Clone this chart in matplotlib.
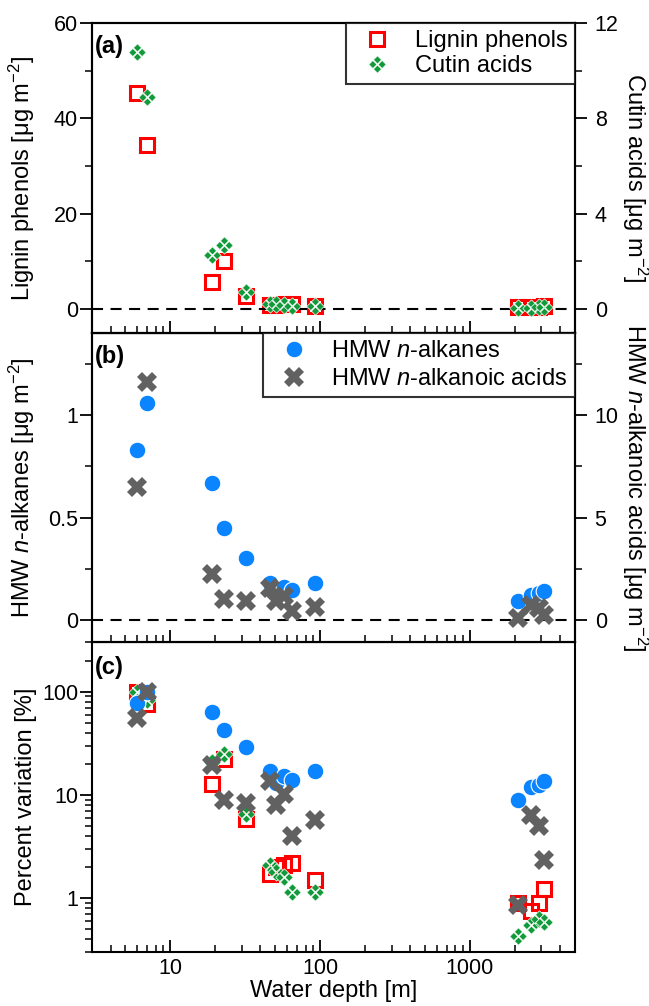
import numpy as np
import matplotlib
matplotlib.use("Agg")
import matplotlib.pyplot as plt
from matplotlib.path import Path
from matplotlib.ticker import (FixedLocator, MultipleLocator, LogLocator,
                               NullFormatter, FuncFormatter)

# ---- data: surface concentrations by station water depth ----
depth = [6.0, 7.0, 19, 23, 32, 46, 51, 57, 65, 92, 2100, 2580, 2900, 3150]

# ug m-2
lignin = [45.3, 34.4, 5.75, 10.05, 2.63, 0.77, 0.91, 0.95, 1.00, 0.68,
          0.41, 0.34, 0.41, 0.56]
cutin = [10.8, 8.9, 2.27, 2.70, 0.70, 0.227, 0.194, 0.173, 0.124, 0.124,
         0.046, 0.059, 0.067, 0.063]
alkanes = [0.83, 1.06, 0.668, 0.45, 0.305, 0.181, 0.137, 0.162, 0.147, 0.181,
           0.094, 0.125, 0.131, 0.143]
alkanoic = [6.5, 11.6, 2.25, 1.03, 0.96, 1.59, 0.93, 1.18, 0.46, 0.66,
            0.10, 0.74, 0.58, 0.27]

x_ticks = [10, 100, 1000]
x_tick_labels = ["10", "100", "1000"]


def pct_of_max(v):
    v = np.asarray(v, dtype=float)
    return v / v.max() * 100.0


def four_diamonds(r=0.44, d=0.5):
    verts, codes = [], []
    for cx, cy in [(0, d), (d, 0), (0, -d), (-d, 0)]:
        verts += [(cx, cy + r), (cx + r, cy), (cx, cy - r), (cx - r, cy), (cx, cy + r)]
        codes += [Path.MOVETO, Path.LINETO, Path.LINETO, Path.LINETO, Path.CLOSEPOLY]
    return Path(verts, codes)


plt.rcParams["font.family"] = ["Liberation Sans", "DejaVu Sans"]
plt.rcParams["mathtext.fontset"] = "custom"
plt.rcParams["mathtext.rm"] = "Liberation Sans"
plt.rcParams["mathtext.it"] = "Liberation Sans:italic"
plt.rcParams["mathtext.bf"] = "Liberation Sans:bold"

RED = "#ff0000"
GREEN = "#119a3a"
BLUE = "#0a84ff"
GRAY = "#616161"
CUTIN_MARKER = four_diamonds()

TICK_FS = 15.5
LABEL_FS = 17
LEG_FS = 17

sq_kw = dict(marker="s", ms=9.5, mfc="none", mec=RED, mew=2.2, ls="none")
cu_kw = dict(marker=CUTIN_MARKER, ms=12.5, mfc=GREEN, mec="white", mew=0.5, ls="none")
al_kw = dict(marker="o", ms=12, mfc=BLUE, mec="white", mew=0.8, ls="none")
ac_kw = dict(marker="X", ms=14, mfc=GRAY, mec="none", mew=0, ls="none")

fig = plt.figure(figsize=(6.49, 10.06), dpi=100)
L, W = 92 / 649, (574.5 - 92) / 649
H = 309.6 / 1006
B_c = 1 - 952 / 1006
ax_c = fig.add_axes([L, B_c, W, H])
ax_b = fig.add_axes([L, B_c + H, W, H], sharex=ax_c)
ax_a = fig.add_axes([L, B_c + 2 * H, W, H], sharex=ax_c)
ax_a2 = ax_a.twinx()
ax_b2 = ax_b.twinx()

for ax in (ax_a, ax_b, ax_c, ax_a2, ax_b2):
    for s in ax.spines.values():
        s.set_linewidth(1.5)

# ---- (a) lignin phenols / cutin acids ----
ax_a.axhline(0, color="black", lw=1.5, dashes=(5.3, 3.6), zorder=2.5)
h_lig, = ax_a.plot(depth, lignin, label="Lignin phenols", **sq_kw)
h_cut, = ax_a2.plot(depth, cutin, label="Cutin acids", **cu_kw)
ax_a.set_ylim(-5, 60)
ax_a2.set_ylim(-1, 12)
ax_a.yaxis.set_major_locator(MultipleLocator(20))
ax_a.yaxis.set_minor_locator(MultipleLocator(10))
ax_a2.yaxis.set_major_locator(MultipleLocator(4))
ax_a2.yaxis.set_minor_locator(MultipleLocator(2))
ax_a.set_ylabel("Lignin phenols [μg m$^{-2}$]", fontsize=LABEL_FS)
ax_a2.set_ylabel("Cutin acids [μg m$^{-2}$]", fontsize=LABEL_FS, rotation=270,
                 va="bottom")
leg_a = ax_a2.legend(handles=[h_lig, h_cut], loc="upper right", fontsize=LEG_FS,
                     frameon=True, fancybox=False, edgecolor="black",
                     borderaxespad=0, borderpad=0.3, labelspacing=0.12,
                     handletextpad=0.6, handlelength=2.0)
leg_a.get_frame().set_linewidth(1.5)
ax_a.text(0.006, 0.924, "(a)", transform=ax_a.transAxes, fontsize=17,
          fontweight="bold", va="center", ha="left")

# ---- (b) HMW n-alkanes / n-alkanoic acids ----
ax_b.axhline(0, color="black", lw=1.5, dashes=(5.3, 3.6), zorder=2.5)
h_alk, = ax_b.plot(depth, alkanes, label="HMW $\\mathit{n}$-alkanes", **al_kw)
h_aco, = ax_b2.plot(depth, alkanoic, label="HMW $\\mathit{n}$-alkanoic acids", **ac_kw)
ax_b.set_ylim(-0.108, 1.4)
ax_b2.set_ylim(-1.08, 14)
ax_b.yaxis.set_major_locator(MultipleLocator(0.5))
ax_b.yaxis.set_minor_locator(MultipleLocator(0.25))
ax_b.yaxis.set_major_formatter(FuncFormatter(lambda v, p: f"{v:g}"))
ax_b2.yaxis.set_major_locator(MultipleLocator(5))
ax_b2.yaxis.set_minor_locator(MultipleLocator(2.5))
ax_b.set_ylabel("HMW $\\mathit{n}$-alkanes [μg m$^{-2}$]", fontsize=LABEL_FS)
ax_b2.set_ylabel("HMW $\\mathit{n}$-alkanoic acids [μg m$^{-2}$]", fontsize=LABEL_FS,
                 rotation=270, va="bottom")
leg_b = ax_b2.legend(handles=[h_alk, h_aco], loc="upper right", fontsize=LEG_FS,
                     frameon=True, fancybox=False, edgecolor="black",
                     borderaxespad=0, borderpad=0.3, labelspacing=0.25,
                     handletextpad=0.6, handlelength=2.0)
leg_b.get_frame().set_linewidth(1.5)
ax_b.text(0.006, 0.925, "(b)", transform=ax_b.transAxes, fontsize=17,
          fontweight="bold", va="center", ha="left")

# ---- (c) percent of the maximum, log scale ----
ax_c.plot(depth, pct_of_max(lignin), **sq_kw)
ax_c.plot(depth, pct_of_max(cutin), **cu_kw)
ax_c.plot(depth, pct_of_max(alkanes), **al_kw)
ax_c.plot(depth, pct_of_max(alkanoic), **ac_kw)
ax_c.set_yscale("log")
ax_c.set_ylim(0.3, 300)
ax_c.yaxis.set_major_locator(FixedLocator([1, 10, 100]))
ax_c.yaxis.set_major_formatter(FuncFormatter(lambda v, p: f"{v:g}"))
ax_c.yaxis.set_minor_locator(LogLocator(base=10, subs=np.arange(2, 10), numticks=20))
ax_c.yaxis.set_minor_formatter(NullFormatter())
ax_c.set_ylabel("Percent variation [%]", fontsize=LABEL_FS)
ax_c.text(0.006, 0.918, "(c)", transform=ax_c.transAxes, fontsize=17,
          fontweight="bold", va="center", ha="left")

# ---- shared log depth axis ----
ax_c.set_xscale("log")
ax_c.set_xlim(3, 5000)
ax_c.xaxis.set_major_locator(FixedLocator(x_ticks))
ax_c.xaxis.set_major_formatter(FuncFormatter(
    lambda v, p: x_tick_labels[x_ticks.index(v)] if v in x_ticks else ""))
ax_c.xaxis.set_minor_locator(LogLocator(base=10, subs=np.arange(2, 10), numticks=20))
ax_c.xaxis.set_minor_formatter(NullFormatter())
ax_c.set_xlabel("Water depth [m]", fontsize=LABEL_FS, labelpad=1)

for ax in (ax_a, ax_b, ax_c):
    ax.tick_params(axis="x", which="major", direction="in", length=8.5, width=1.3,
                   top=False, labelsize=TICK_FS, pad=4)
    ax.tick_params(axis="x", which="minor", direction="in", length=5, width=1.1,
                   top=False)
    ax.tick_params(axis="y", which="major", direction="out", length=8.5, width=1.3,
                   labelsize=TICK_FS, pad=1.5, right=False)
    ax.tick_params(axis="y", which="minor", direction="out", length=4.8, width=1.1,
                   right=False)
for ax in (ax_a, ax_b):
    ax.tick_params(axis="x", labelbottom=False)
for ax in (ax_a2, ax_b2):
    ax.tick_params(axis="y", which="major", direction="out", length=8.5, width=1.3,
                   labelsize=TICK_FS, pad=6)
    ax.tick_params(axis="y", which="minor", direction="out", length=4.8, width=1.1)

for ax in (ax_a, ax_b, ax_c):
    ax.yaxis.set_label_coords(-0.115, 0.5)
for ax in (ax_a2, ax_b2):
    ax.yaxis.set_label_coords(1.095, 0.5)

fig.savefig("out.png", dpi=100)
